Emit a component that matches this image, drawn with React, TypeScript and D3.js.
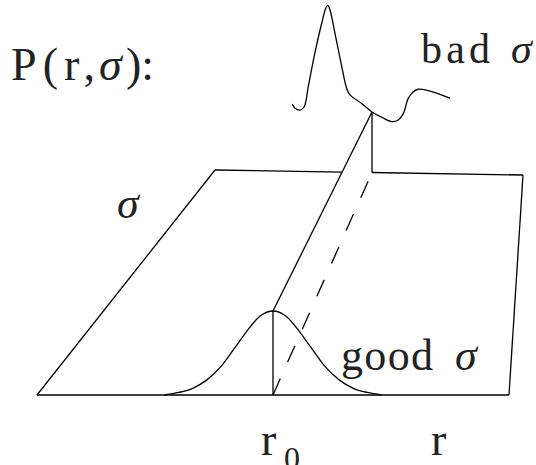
import * as d3 from 'd3';

// r position of the ridge (r0) and the plane extent, in r units
const R0 = 5;
const planeR = [0, 10];
const planeS = [0, 1];

// good sigma: narrow bump in the front plane (s = 0)
const goodR = [2.7, 3.0, 3.3, 3.6, 3.9, 4.2, 4.5, 4.75, 5.0, 5.25, 5.5, 5.8, 6.1, 6.4, 6.7, 7.0, 7.3];
const goodP = [0, 0.03, 0.08, 0.18, 0.34, 0.57, 0.8, 0.95, 1, 0.95, 0.8, 0.57, 0.34, 0.18, 0.08, 0.03, 0];

// bad sigma: ragged curve in the back plane (s = 1)
const badR = [2.46, 2.55, 2.71, 2.84, 2.97, 3.18, 3.4, 3.53, 3.59, 3.66, 3.82, 4.04, 4.19, 4.3, 4.67, 5.0, 5.32, 5.65, 5.87, 6.04, 6.2, 6.37, 6.53, 6.86, 7.58];
const badP = [0.8, 0.75, 0.73, 0.77, 1.01, 1.41, 1.77, 1.95, 1.98, 1.93, 1.65, 1.25, 1.0, 0.92, 0.82, 0.72, 0.66, 0.61, 0.63, 0.71, 0.89, 0.97, 1.0, 0.985, 0.9];

const W = 536;
const H = 465;

const xFront = d3.scaleLinear().domain([0, R0, 10]).range([37, 273, 509]);
const xBack = d3.scaleLinear().domain([0, R0, 10]).range([215, 372, 523]);
const yFront = d3.scaleLinear().domain(planeR).range([395, 395]);
const yBack = d3.scaleLinear().domain(planeR).range([170, 175]);
const hgt = d3.scaleLinear().domain([0, 1]).range([0, 84]);

type Pt = [number, number];

const proj = (r: number, s: number, p: number): Pt => [
  (1 - s) * xFront(r) + s * xBack(r),
  (1 - s) * yFront(r) + s * yBack(r) - hgt(p),
];

const intersect = (a: Pt, b: Pt, c: Pt, d: Pt): Pt => {
  const den = (a[0] - b[0]) * (c[1] - d[1]) - (a[1] - b[1]) * (c[0] - d[0]);
  const t = ((a[0] - c[0]) * (c[1] - d[1]) - (a[1] - c[1]) * (c[0] - d[0])) / den;
  return [a[0] + t * (b[0] - a[0]), a[1] + t * (b[1] - a[1])];
};

const curve = d3.line<Pt>().curve(d3.curveCatmullRom.alpha(0.5));
const seg = d3.line<Pt>();

export default function App() {
  const [s0, s1] = planeS;
  const [rMin, rMax] = planeR;
  const goodPeak = goodP[goodR.indexOf(R0)];
  const badAtR0 = badP[badR.indexOf(R0)];

  const ridgeA = proj(R0, s0, goodPeak);
  const ridgeB = proj(R0, s1, badAtR0);
  const backL = proj(rMin, s1, 0);
  const backR = proj(rMax, s1, 0);
  const cut = intersect(ridgeA, ridgeB, backL, backR);

  const goodPts = goodR.map((r, i) => proj(r, s0, goodP[i]));
  const badPts = badR.map((r, i) => proj(r, s1, badP[i]));

  const stroke = { fill: 'none', stroke: '#000', strokeWidth: 1.3 };
  const font = { fontFamily: 'Liberation Serif', fontWeight: 400, fill: '#222' };

  return (
    <svg width={W} height={H} style={{ position: 'absolute', left: 0, top: 0, background: '#fff' }}>
      {/* plane outline */}
      <path d={seg([proj(rMin, s0, 0), proj(rMax, s0, 0)])!} {...stroke} />
      <path d={seg([proj(rMin, s0, 0), backL])!} {...stroke} />
      <path d={seg([proj(rMax, s0, 0), backR])!} {...stroke} />
      <path d={seg([backL, cut])!} {...stroke} />
      <path d={seg([proj(R0, s1, 0), backR])!} {...stroke} />

      {/* ridge along r0 */}
      <path d={seg([ridgeA, ridgeB])!} {...stroke} />
      <path d={seg([proj(R0, s0, 0), proj(R0, s1, 0)])!} {...stroke} strokeDasharray="18 18" />
      <path d={seg([proj(R0, s0, 0), ridgeA])!} {...stroke} />
      <path d={seg([proj(R0, s1, 0), ridgeB])!} {...stroke} />

      {/* curves */}
      <path d={curve(goodPts)!} {...stroke} />
      <path d={curve(badPts)!} {...stroke} />

      {/* labels */}
      <text x={11} y={80} fontSize={46} {...font}>
        <tspan textLength={84} lengthAdjust="spacing">P(r,</tspan>
        <tspan x={99} fontStyle="italic">σ</tspan>
        <tspan x={126}>):</tspan>
      </text>
      <text x={421} y={63} fontSize={42} {...font} textLength={69} lengthAdjust="spacing">bad</text>
      <text x={511} y={63} fontSize={42} fontStyle="italic" {...font}>σ</text>
      <text x={117} y={218} fontSize={44} fontStyle="italic" {...font}>σ</text>
      <text x={341} y={370} fontSize={44} {...font} textLength={92} lengthAdjust="spacing">good</text>
      <text x={455} y={370} fontSize={44} fontStyle="italic" {...font}>σ</text>
      <text x={261} y={455} fontSize={46} {...font}>r</text>
      <text x={284} y={469} fontSize={32} {...font}>0</text>
      <text x={431} y={455} fontSize={46} {...font}>r</text>
    </svg>
  );
}
